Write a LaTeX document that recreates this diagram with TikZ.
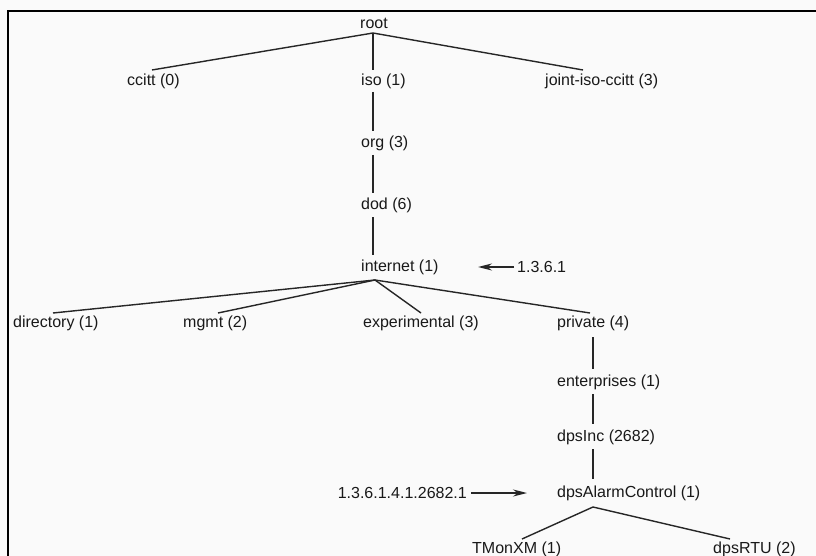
\documentclass[tikz,border=0pt]{standalone}
\usepackage{fontspec}
\setmainfont{Liberation Sans}
\usetikzlibrary{arrows.meta,calc}
\begin{document}
\begin{tikzpicture}[x=1pt,y=-1pt,
  lbl/.style={anchor=west,inner sep=0pt,font=\fontsize{16}{19}\selectfont,text=black!90},
  edge/.style={line width=1.4pt,draw=black!85},
  ptr/.style={line width=1.4pt,draw=black!85,-{Stealth[length=14pt,width=7pt]}}]
\useasboundingbox (0,0) rectangle (816,556);
\fill[white!98!black] (0,0) rectangle (816,556);
\draw[line width=2.5pt,black] (8,556) -- (8,11) -- (816,11);
% labels
\node[lbl,anchor=center] (root) at (374,23) {root};
\node[lbl] (ccitt) at (127,81) {ccitt (0)};
\node[lbl] (iso) at (361,81) {iso (1)};
\node[lbl] (joint) at (545,81) {joint-iso-ccitt (3)};
\node[lbl] (org) at (361,143) {org (3)};
\node[lbl] (dod) at (361,205) {dod (6)};
\node[lbl] (internet) at (361,267) {internet (1)};
\node[lbl] (oid1) at (517,267) {1.3.6.1};
\node[lbl] (directory) at (13,323) {directory (1)};
\node[lbl] (mgmt) at (183,323) {mgmt (2)};
\node[lbl] (experimental) at (363,323) {experimental (3)};
\node[lbl] (private) at (557,323) {private (4)};
\node[lbl] (enterprises) at (557,382) {enterprises (1)};
\node[lbl] (dpsinc) at (557,437) {dpsInc (2682)};
\node[lbl] (alarm) at (557,493) {dpsAlarmControl (1)};
\node[lbl,anchor=east] (oid2) at (467,493) {1.3.6.1.4.1.2682.1};
\node[lbl] (tmon) at (472,549) {TMonXM (1)};
\node[lbl] (rtu) at (713,549) {dpsRTU (2)};
% connection points
\coordinate (rootB) at (373,33);
\coordinate (ccittT) at (152,70);
\coordinate (isoT) at (373,70);
\coordinate (isoB) at (373,92);
\coordinate (jointT) at (583,70);
\coordinate (orgT) at (373,131);
\coordinate (orgB) at (373,155);
\coordinate (dodT) at (373,193);
\coordinate (dodB) at (373,217);
\coordinate (internetT) at (373,255);
\coordinate (internetB) at (375,280);
\coordinate (directoryT) at (53,313);
\coordinate (mgmtT) at (218,313);
\coordinate (experimentalT) at (421,313);
\coordinate (privateT) at (590,313);
\coordinate (privateB) at (593,337);
\coordinate (enterprisesT) at (593,369);
\coordinate (enterprisesB) at (593,394);
\coordinate (dpsincT) at (593,424);
\coordinate (dpsincB) at (593,449);
\coordinate (alarmT) at (593,479);
\coordinate (alarmB) at (593,507);
\coordinate (tmonT) at (522,539);
\coordinate (rtuT) at (730,539);
% edges
\draw[edge] (rootB) -- (ccittT);
\draw[edge] (rootB) -- (isoT);
\draw[edge] (rootB) -- (jointT);
\draw[edge] (isoB) -- (orgT);
\draw[edge] (orgB) -- (dodT);
\draw[edge] (dodB) -- (internetT);
\draw[edge] (internetB) -- (directoryT);
\draw[edge] (internetB) -- (mgmtT);
\draw[edge] (internetB) -- (experimentalT);
\draw[edge] (internetB) -- (privateT);
\draw[edge] (privateB) -- (enterprisesT);
\draw[edge] (enterprisesB) -- (dpsincT);
\draw[edge] (dpsincB) -- (alarmT);
\draw[edge] (alarmB) -- (tmonT);
\draw[edge] (alarmB) -- (rtuT);
% pointers
\draw[ptr] ([xshift=-3pt]oid1.west) -- ([xshift=-39pt]oid1.west);
\draw[ptr] ([xshift=4pt]oid2.east) -- ([xshift=-30pt]alarm.west);
\end{tikzpicture}
\end{document}
